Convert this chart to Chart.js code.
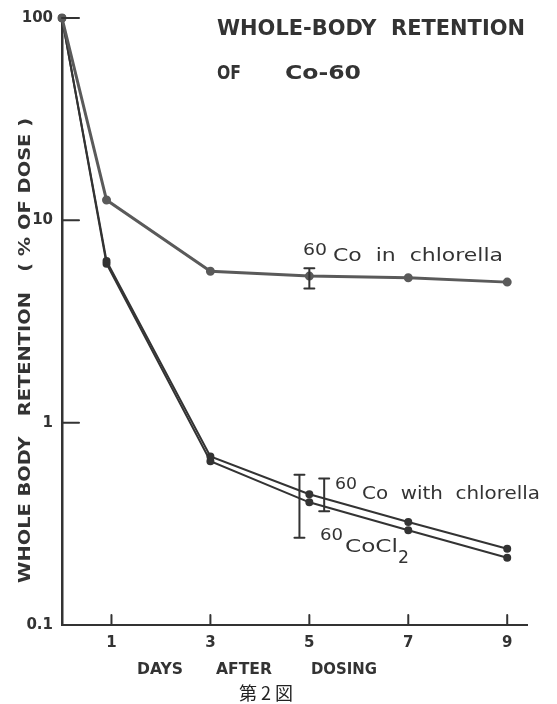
<!DOCTYPE html>
<html>
<head>
<meta charset="utf-8">
<script src="https://cdn.jsdelivr.net/npm/chart.js@4.4.1/dist/chart.umd.min.js"></script>
<style>
  html, body { margin: 0; padding: 0; background: #fff; }
  canvas { display: block; }
</style>
</head>
<body>
<canvas id="chart" width="557" height="704"></canvas>
<script>
// days after dosing (first point drawn a little before day 1)
const days = [0, 0.9, 3, 5, 7, 9];
const inChlorella = [100, 12.6, 5.6, 5.3, 5.2, 4.95];
const withChlorella = [100, 6.3, 0.68, 0.443, 0.323, 0.238];
const coCl2 = [100, 6.1, 0.645, 0.404, 0.294, 0.215];

// error bars near day 5 (drawn slightly apart)
const errDays = [5.0, 5.3, 4.8];
const errLow = [4.6, 0.365, 0.27];
const errHigh = [5.8, 0.53, 0.553];

const xTicks = [1, 3, 5, 7, 9];
const yTicks = [0.1, 1, 10, 100];

const ink = '#333';

function pts(vals) {
    return days.map((d, i) => ({ x: d, y: vals[i] }));
}

// draw text squeezed/stretched to a given width
function fitText(ctx, text, x, y, w, font) {
    ctx.font = font;
    const m = ctx.measureText(text).width;
    ctx.save();
    ctx.translate(x, y);
    ctx.scale(w / m, 1);
    ctx.fillText(text, 0, 0);
    ctx.restore();
}

const decorations = {
    id: 'decorations',
    afterDatasetsDraw(chart) {
        const ctx = chart.ctx;
        const xs = chart.scales.x;
        const ys = chart.scales.y;
        const area = chart.chartArea;
        ctx.save();
        ctx.strokeStyle = ink;
        ctx.fillStyle = ink;
        ctx.lineCap = 'round';

        // inward tick marks
        ctx.lineWidth = 2;
        yTicks.forEach(v => {
            const y = ys.getPixelForValue(v);
            ctx.beginPath();
            ctx.moveTo(area.left, y);
            ctx.lineTo(area.left + 17, y);
            ctx.stroke();
        });
        xTicks.forEach(v => {
            const x = xs.getPixelForValue(v);
            ctx.beginPath();
            ctx.moveTo(x, area.bottom);
            ctx.lineTo(x, area.bottom - 10);
            ctx.stroke();
        });

        // error bars
        ctx.lineWidth = 2;
        errDays.forEach((d, i) => {
            const x = xs.getPixelForValue(d);
            const y1 = ys.getPixelForValue(errLow[i]);
            const y2 = ys.getPixelForValue(errHigh[i]);
            ctx.beginPath();
            ctx.moveTo(x, y1); ctx.lineTo(x, y2);
            ctx.moveTo(x - 5, y1); ctx.lineTo(x + 5, y1);
            ctx.moveTo(x - 5, y2); ctx.lineTo(x + 5, y2);
            ctx.stroke();
        });

        ctx.textAlign = 'left';
        ctx.textBaseline = 'alphabetic';

        // title
        fitText(ctx, 'WHOLE-BODY  RETENTION', 217, 35, 308, 'bold 21px "DejaVu Sans"');
        fitText(ctx, 'OF', 217, 79, 24, 'bold 20px "DejaVu Sans"');
        fitText(ctx, 'Co-60', 285, 79, 76, 'bold 20px "DejaVu Sans"');

        // series labels
        const lab = '17px "DejaVu Sans"';
        const sup = '16px "DejaVu Sans"';
        fitText(ctx, '60', 303, 255, 24, sup);
        fitText(ctx, 'Co  in  chlorella', 333, 261, 170, lab);
        fitText(ctx, '60', 335, 489, 22, sup);
        fitText(ctx, 'Co  with  chlorella', 362, 499, 178, lab);
        fitText(ctx, '60', 320, 540, 23, sup);
        fitText(ctx, 'CoCl', 345, 552, 53, lab);
        fitText(ctx, '2', 398, 563, 11, lab);

        // y axis title
        ctx.save();
        ctx.translate(30, 583);
        ctx.rotate(-Math.PI / 2);
        fitText(ctx, 'WHOLE BODY   RETENTION   ( % OF DOSE )', 0, 0, 465, 'bold 16px "DejaVu Sans"');
        ctx.restore();

        // x axis title
        fitText(ctx, 'DAYS', 137, 674, 46, 'bold 15px "DejaVu Sans"');
        fitText(ctx, 'AFTER', 216, 674, 56, 'bold 15px "DejaVu Sans"');
        fitText(ctx, 'DOSING', 311, 674, 66, 'bold 15px "DejaVu Sans"');

        // figure caption
        ctx.font = '18px "Noto Sans CJK JP"';
        ctx.fillStyle = '#222';
        ctx.textAlign = 'center';
        ctx.fillText('第 2 図', 266, 700);

        ctx.restore();
    }
};

const lineStyle = (color, width) => ({
    borderColor: color,
    backgroundColor: color,
    pointBackgroundColor: color,
    pointBorderColor: color,
    borderWidth: width,
    pointRadius: 3,
    tension: 0,
    clip: false
});

new Chart(document.getElementById('chart'), {
    type: 'line',
    data: {
        datasets: [
            { label: '60Co in chlorella', data: pts(inChlorella), ...lineStyle('#5a5a5a', 3) },
            { label: '60Co with chlorella', data: pts(withChlorella), ...lineStyle('#333', 2) },
            { label: '60CoCl2', data: pts(coCl2), ...lineStyle('#333', 2) }
        ]
    },
    options: {
        responsive: false,
        animation: false,
        layout: { padding: { top: 12, right: 30, left: 0, bottom: 0 } },
        plugins: {
            legend: { display: false },
            tooltip: { enabled: false }
        },
        scales: {
            x: {
                type: 'linear',
                min: 0,
                max: 9.4,
                afterBuildTicks: s => { s.ticks = xTicks.map(v => ({ value: v })); },
                afterFit: s => { s.height = 79; },
                grid: { display: false, drawTicks: false },
                border: { display: true, color: ink, width: 2 },
                ticks: { color: ink, font: { family: 'DejaVu Sans', weight: 'bold', size: 15 }, padding: 9 }
            },
            y: {
                type: 'logarithmic',
                min: 0.1,
                max: 100,
                afterBuildTicks: s => { s.ticks = yTicks.map(v => ({ value: v })); },
                afterFit: s => { s.width = 62; },
                grid: { display: false, drawTicks: false },
                border: { display: true, color: ink, width: 2.5 },
                ticks: {
                    color: ink,
                    font: { family: 'DejaVu Sans', weight: 'bold', size: 15 },
                    padding: 9,
                    callback: v => String(v)
                }
            }
        }
    },
    plugins: [decorations]
});
</script>
</body>
</html>
